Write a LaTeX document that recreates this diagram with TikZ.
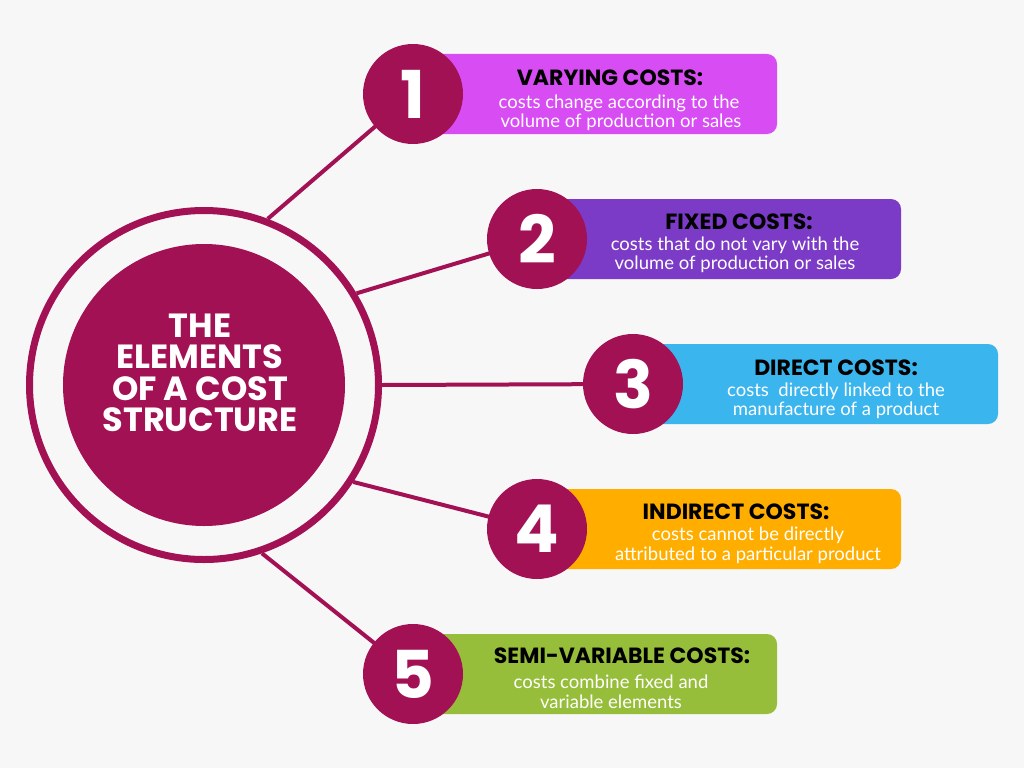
\documentclass[tikz,border=0pt]{standalone}
\usepackage{fontspec}
\newfontfamily\headfont{Poppins}
\newfontfamily\bodyfont{Lato}
\pgfdeclarelayer{back}
\pgfdeclarelayer{links}
\pgfsetlayers{back,links,main}
\definecolor{crim}{HTML}{A31155}
\definecolor{cA}{HTML}{D84CF4}
\definecolor{cB}{HTML}{7B3BC6}
\definecolor{cC}{HTML}{3BB5EE}
\definecolor{cD}{HTML}{FFAE00}
\definecolor{cE}{HTML}{96BE3A}
\definecolor{bgc}{HTML}{F7F7F7}
\tikzset{
  box/.style={fill=#1, rounded corners=10pt, minimum height=80pt, minimum width=364pt, inner sep=0},
  numc/.style={circle, fill=crim, minimum size=100pt, inner sep=0, text=white,
    font=\headfont\bfseries\fontsize{66}{66}\selectfont},
  head/.style={anchor=base, inner sep=0, text=black, text depth=0pt, text height=16pt,
    font=\headfont\bfseries\fontsize{22}{22}\selectfont},
  body/.style={anchor=base, inner sep=0, text=white, text height=13pt, text depth=3pt,
    font=\bodyfont\fontsize{18.5}{18.5}\selectfont},
  link/.style={draw=crim, line width=4pt},
}
\begin{document}
\begin{tikzpicture}[x=1pt,y=-1pt]
\useasboundingbox (0,0) rectangle (1024,768);
\begin{pgfonlayer}{back}
\fill[bgc] (0,0) rectangle (1024,768);
\end{pgfonlayer}
% central circle
\node[circle, draw=crim, line width=7pt, minimum size=349pt, inner sep=0] (ring) at (204,385) {};
\node[circle, fill=crim, minimum size=282pt, inner sep=0] (core) at (204,385) {};
\node[align=center, text=white, inner sep=0, font=\headfont\bfseries\fontsize{33.5}{31.3}\selectfont] (title) at (200,373) {THE\\ELEMENTS\\OF A COST\\STRUCTURE};
% boxes
\node[box=cA] (b1) at (595,94) {};
\node[box=cB] (b2) at (719,239) {};
\node[box=cC, minimum width=365pt] (b3) at (815.5,384) {};
\node[box=cD] (b4) at (719,529) {};
\node[box=cE] (b5) at (595,674) {};
% number circles
\node[numc] (n1) at (413,94) {1};
\node[numc] (n2) at (537,239) {2};
\node[numc] (n3) at (633,384) {3};
\node[numc] (n4) at (537,529) {4};
\node[numc] (n5) at (413,674) {5};
% links
\begin{pgfonlayer}{links}
\draw[link] (ring.69) -- (n1.center);
\draw[link] (ring.31) -- (n2.center);
\draw[link] (ring.0) -- (n3.center);
\draw[link] (ring.-33) -- (n4.center);
\draw[link] (ring.-71) -- (n5.center);
\end{pgfonlayer}
% texts
\node[head] (h1) at (610,85) {VARYING COSTS:};
\node[body] (t1a) at (619,108) {costs change according to the};
\node[body] (t1b) at (621,127) {volume of production or sales};
\node[head] (h2) at (739,229.5) {FIXED COSTS:};
\node[body] (t2a) at (735,250) {costs that do not vary with the};
\node[body] (t2b) at (735,269) {volume of production or sales};
\node[head] (h3) at (836,375) {DIRECT COSTS:};
\node[body] (t3a) at (836,396) {costs\ \ directly linked to the};
\node[body] (t3b) at (836,415) {manufacture of a product};
\node[head] (h4) at (736,519) {INDIRECT COSTS:};
\node[body] (t4a) at (748,540) {costs cannot be directly};
\node[body] (t4b) at (748,560) {attributed to a particular product};
\node[head] (h5) at (622,663) {SEMI-VARIABLE COSTS:};
\node[body] (t5a) at (611,688) {costs combine fixed and};
\node[body] (t5b) at (611,708) {variable elements};
\end{tikzpicture}
\end{document}
